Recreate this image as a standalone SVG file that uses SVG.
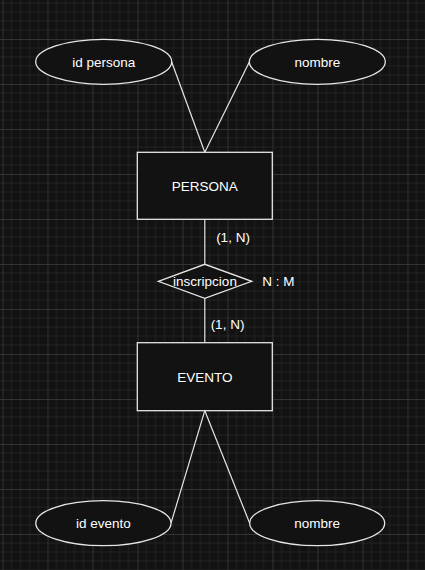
<svg xmlns="http://www.w3.org/2000/svg" width="425" height="570" viewBox="0 0 425 570">
  <style>
    .shape { fill: #121212; stroke: #e6e6e6; stroke-width: 1.3; }
    .conn { fill: none; stroke: #e6e6e6; stroke-width: 1.2; }
    text { font-family: "Liberation Sans", Arial, sans-serif; font-size: 13.5px; fill: #ffffff; }
    .c { text-anchor: middle; dominant-baseline: central; }
  </style>
  <defs>
    <pattern id="grid" patternUnits="userSpaceOnUse" x="2.5" y="39" width="45" height="45">
      <path d="M9 0V45M18 0V45M27 0V45M36 0V45M0 9H45M0 18H45M0 27H45M0 36H45" stroke="#212121" stroke-width="1" fill="none"/>
      <path d="M0.5 0V45M0 0.5H45" stroke="#333333" stroke-width="1" fill="none"/>
    </pattern>
  </defs>
  <rect width="425" height="570" fill="#121212"/>
  <rect width="425" height="570" fill="url(#grid)"/>

  <g id="connectors">
    <line class="conn" x1="171.7" y1="62" x2="204.8" y2="152.3"/>
    <line class="conn" x1="249.3" y1="62" x2="204.8" y2="152.3"/>
    <line class="conn" x1="204.8" y1="219.3" x2="204.8" y2="264.3"/>
    <line class="conn" x1="204.8" y1="298.3" x2="204.8" y2="342.7"/>
    <line class="conn" x1="204.8" y1="410.7" x2="171" y2="523.2"/>
    <line class="conn" x1="204.8" y1="410.7" x2="249.7" y2="523.2"/>
  </g>

  <g id="id-persona">
    <ellipse class="shape" cx="103.7" cy="61.8" rx="68" ry="22.5"/>
    <text class="c" x="103.7" y="62">id persona</text>
  </g>
  <g id="nombre-persona">
    <ellipse class="shape" cx="317.3" cy="61.8" rx="68" ry="22.5"/>
    <text class="c" x="317.3" y="62">nombre</text>
  </g>
  <g id="persona">
    <rect class="shape" x="137.3" y="152.3" width="135" height="67"/>
    <text class="c" x="204.8" y="186">PERSONA</text>
  </g>
  <g id="label-1n-top">
    <text class="c" x="233" y="237">(1, N)</text>
  </g>
  <g id="inscripcion">
    <polygon class="shape" points="158.3,281.3 204.8,264.3 251.7,281.3 204.8,298.3"/>
    <text class="c" x="205" y="281.5">inscripcion</text>
  </g>
  <g id="label-nm">
    <text class="c" x="278.3" y="281.5">N : M</text>
  </g>
  <g id="label-1n-bottom">
    <text class="c" x="227.5" y="324.5">(1, N)</text>
  </g>
  <g id="evento">
    <rect class="shape" x="137.3" y="342.7" width="135" height="68"/>
    <text class="c" x="204.8" y="377">EVENTO</text>
  </g>
  <g id="id-evento">
    <ellipse class="shape" cx="103.4" cy="523.2" rx="67.6" ry="22.5"/>
    <text class="c" x="103.4" y="523.5">id evento</text>
  </g>
  <g id="nombre-evento">
    <ellipse class="shape" cx="317.2" cy="523.2" rx="67.5" ry="22.5"/>
    <text class="c" x="317.2" y="523.5">nombre</text>
  </g>
</svg>
